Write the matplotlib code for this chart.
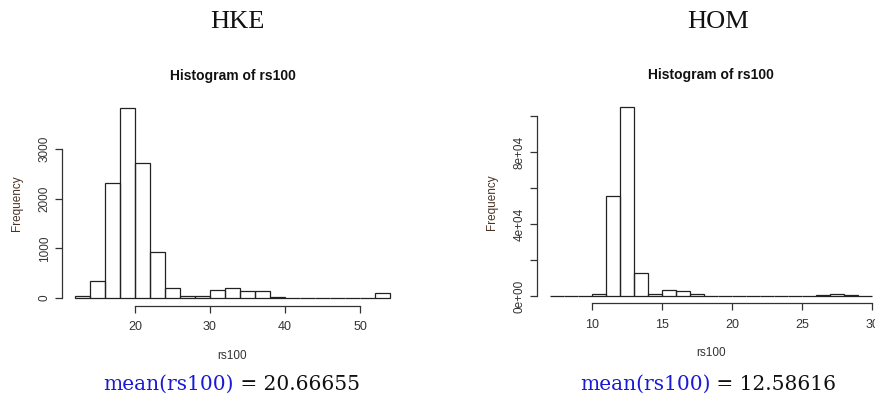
import numpy as np
import matplotlib
matplotlib.use("Agg")
import matplotlib.pyplot as plt

# HKE: rs100 histogram, 2-unit bins from 12 to 54
hke_edges = np.arange(12, 56, 2)
hke_counts = [50, 335, 2320, 3820, 2720, 930, 210, 50, 45, 160,
              195, 135, 135, 15, 0, 0, 0, 0, 0, 0, 110]
hke_mean = "20.66655"

# HOM: rs100 histogram, 1-unit bins from 7 to 30
hom_edges = np.arange(7, 31, 1)
hom_counts = [0, 0, 0, 1100, 55500, 105000, 12600, 1100, 3150, 2600,
              930, 0, 0, 0, 0, 0, 0, 0, 0, 370, 930, 370, 0]
hom_mean = "12.58616"

serif = ["Liberation Serif", "DejaVu Serif"]
wide_serif = ["DejaVu Serif"]
sans = ["Liberation Sans", "DejaVu Sans"]
axis_col = "#333333"

fig = plt.figure(figsize=(8.75, 3.96), dpi=100)


def r_hist(rect, edges, counts, yticks, ylabels, xticks, center_x, name, mean_txt, mean_x):
    ax = fig.add_axes(rect)
    edges = np.asarray(edges, dtype=float)
    counts = np.asarray(counts, dtype=float)
    ax.bar(edges[:-1], counts, width=np.diff(edges), align="edge",
           fill=False, edgecolor="#222222", linewidth=0.9)
    pad_x = 0.04 * (edges[-1] - edges[0])
    ax.set_xlim(edges[0] - pad_x, edges[-1] + pad_x)
    ax.set_ylim(-0.04 * counts.max(), 1.04 * counts.max())
    ax.spines[["top", "right"]].set_visible(False)
    ax.spines["left"].set_bounds(yticks[0], yticks[-1])
    ax.spines["bottom"].set_bounds(xticks[0], xticks[-1])
    for s in ("left", "bottom"):
        ax.spines[s].set_color(axis_col)
        ax.spines[s].set_linewidth(0.9)
    ax.set_xticks(xticks)
    ax.set_xticklabels([str(t) for t in xticks], family=sans, fontsize=9, color=axis_col)
    ax.set_yticks(yticks)
    ax.set_yticklabels(ylabels, family=sans, fontsize=8.5, color=axis_col,
                       rotation=90, va="center")
    ax.tick_params(axis="x", pad=6)
    ax.tick_params(direction="out", length=5, width=0.9, color=axis_col)
    ax.set_ylabel("Frequency", family=sans, fontsize=8.5, color="#4a3326", labelpad=11)
    ax.set_xlabel("rs100", family=sans, fontsize=8.5, color=axis_col, labelpad=12)
    ax.set_title("Histogram of rs100", family=sans, fontsize=10, fontweight="bold",
                 color="#111111", pad=15)
    fig.text(center_x, 1 - 22 / 396, name, family=serif, fontsize=19,
             color="#111111", ha="center", va="center")
    lbl = fig.text(mean_x, 1 - 384 / 396, "mean(rs100)", family=wide_serif,
                   fontsize=14.5, color="#1a1ad6", ha="left", va="center")
    ax.annotate(" = " + mean_txt, xy=(1, 0), xycoords=lbl, va="bottom",
                family=wide_serif, fontsize=14.5, color="#111111")
    return ax


r_hist([0.0713, 0.2283, 0.3888, 0.5174], hke_edges, hke_counts,
       [0, 1000, 2000, 3000], ["0", "1000", "2000", "3000"],
       [20, 30, 40, 50], 237 / 875, "HKE", hke_mean, 103 / 875)

r_hist([0.6138, 0.2336, 0.3975, 0.5141], hom_edges, hom_counts,
       [0, 20000, 40000, 60000, 80000, 100000],
       ["0e+00", "", "4e+04", "", "8e+04", ""],
       [10, 15, 20, 25, 30], 718 / 875, "HOM", hom_mean, 580 / 875)

fig.savefig("out.png", dpi=100)
